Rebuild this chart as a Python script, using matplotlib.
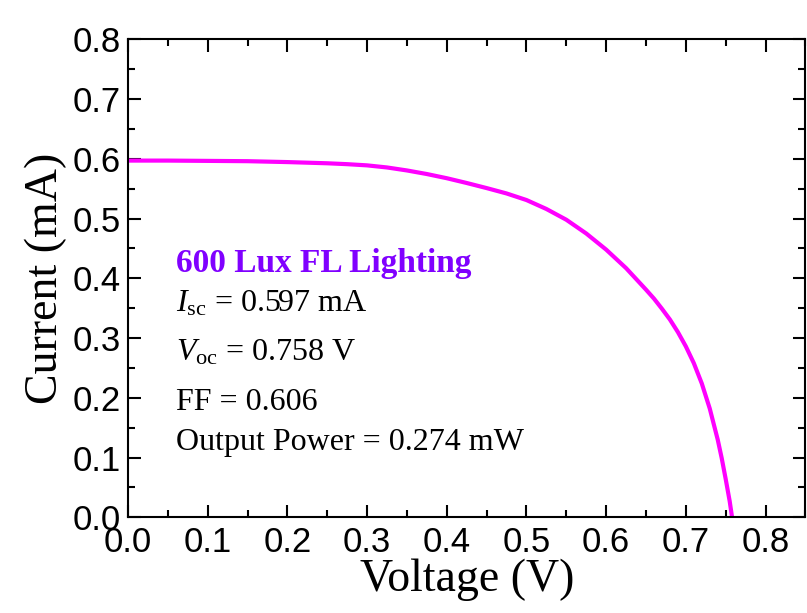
import matplotlib
matplotlib.use('Agg')
import matplotlib.pyplot as plt
from matplotlib.ticker import MultipleLocator

# I-V curve
voltage = [0.0, 0.05, 0.1, 0.15, 0.2, 0.25, 0.275, 0.3, 0.325, 0.35, 0.375, 0.4, 0.425,
           0.45, 0.475, 0.5, 0.525, 0.55, 0.575, 0.6, 0.625, 0.65, 0.66, 0.67,
           0.68, 0.69, 0.7, 0.71, 0.72, 0.73, 0.74, 0.745, 0.75, 0.755, 0.758]
current = [0.597, 0.597, 0.5965, 0.596, 0.5945, 0.5925, 0.591, 0.589, 0.5855, 0.5805, 0.5745,
           0.5675, 0.5595, 0.551, 0.542, 0.531, 0.516, 0.498, 0.475, 0.448, 0.417, 0.381,
           0.366, 0.349, 0.331, 0.310, 0.286, 0.258, 0.224, 0.182, 0.130, 0.099, 0.064,
           0.027, 0.0]

title_text = '600 Lux FL Lighting'
info_lines = [r'$I_{\mathrm{sc}}$ = 0.597 mA',
              r'$V_{\mathrm{oc}}$ = 0.758 V',
              'FF = 0.606',
              'Output Power = 0.274 mW']
info_y = [0.344, 0.263, 0.180, 0.113]

plt.rcParams['mathtext.fontset'] = 'custom'
plt.rcParams['mathtext.rm'] = 'Liberation Serif'
plt.rcParams['mathtext.it'] = 'Liberation Serif:italic'

fig = plt.figure(figsize=(8.07, 6.13), dpi=100)
ax = fig.add_axes([0.1586, 0.1561, 0.998 - 0.1586, 0.9359 - 0.1561])

ax.plot(voltage, current, color='#FF00FF', lw=3, solid_joinstyle='round')

ax.set_xlim(0, 0.85)
ax.set_ylim(0, 0.8)
ax.xaxis.set_major_locator(MultipleLocator(0.1))
ax.xaxis.set_minor_locator(MultipleLocator(0.05))
ax.yaxis.set_major_locator(MultipleLocator(0.1))
ax.yaxis.set_minor_locator(MultipleLocator(0.05))

ax.tick_params(which='both', direction='in', top=True, right=True, width=1.5)
ax.tick_params(which='major', length=9)
ax.tick_params(axis='x', which='major', pad=6)
ax.tick_params(axis='y', which='major', pad=5)
ax.tick_params(which='minor', length=5)
for sp in ax.spines.values():
    sp.set_linewidth(1.5)

ax.xaxis.set_major_formatter(plt.FuncFormatter(lambda v, p: f'{v:.1f}'))
ax.yaxis.set_major_formatter(plt.FuncFormatter(lambda v, p: f'{v:.1f}'))
for lab in ax.get_xticklabels() + ax.get_yticklabels():
    lab.set_fontfamily('Liberation Sans')
    lab.set_fontsize(25)

ax.set_xlabel('Voltage (V)', fontfamily='Liberation Serif', fontsize=33, labelpad=0)
ax.set_ylabel('Current (mA)', fontfamily='Liberation Serif', fontsize=33, labelpad=4)

ax.text(0.06, 0.411, title_text, color='#8000FF', fontweight='bold',
        fontfamily='Liberation Serif', fontsize=24)
for txt, yy in zip(info_lines, info_y):
    ax.text(0.06, yy, txt, color='black', fontfamily='Liberation Serif', fontsize=23)

fig.savefig('out.png', dpi=100)
